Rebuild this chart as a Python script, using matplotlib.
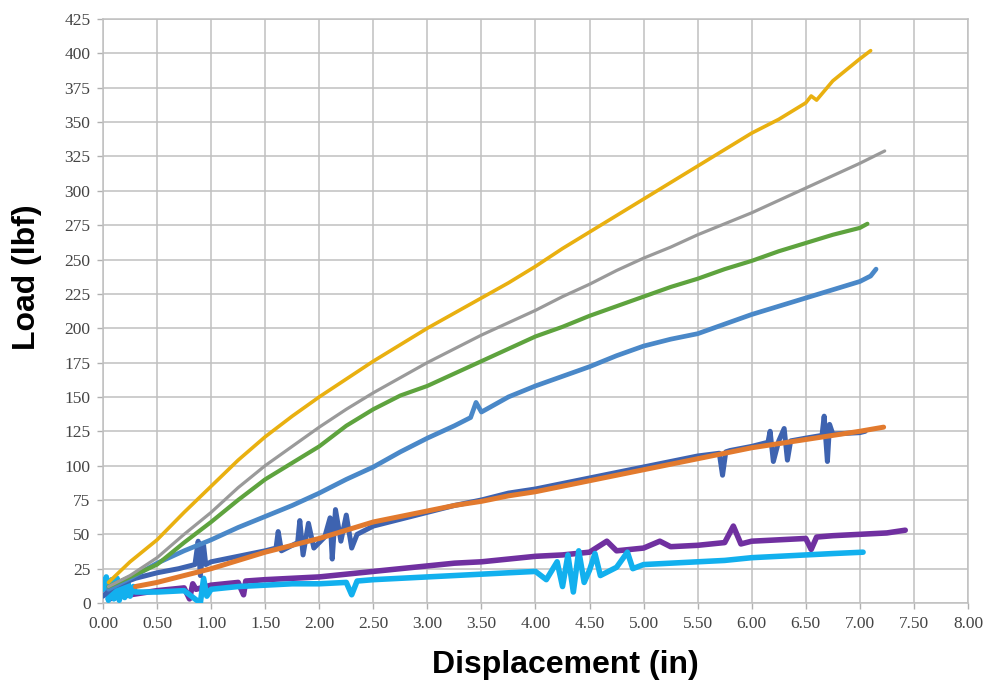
import matplotlib
matplotlib.use("Agg")
import matplotlib.pyplot as plt

# ---------------- data ----------------
yellow_x = [0.05, 0.25, 0.5, 0.75, 1.0, 1.25, 1.5, 1.75, 2.0, 2.25, 2.5, 2.75, 3.0, 3.25, 3.5,
            3.75, 4.0, 4.25, 4.5, 4.75, 5.0, 5.25, 5.5, 5.75, 6.0, 6.25, 6.5, 6.55, 6.6, 6.75, 7.0, 7.1]
yellow_y = [15, 30, 46, 66, 85, 104, 121, 136, 150, 163, 176, 188, 200, 211, 222,
            233, 245, 258, 270, 282, 294, 306, 318, 330, 342, 352, 364, 369, 366, 380, 396, 402]

gray_x = [0.05, 0.25, 0.5, 0.75, 1.0, 1.25, 1.5, 1.75, 2.0, 2.25, 2.5, 2.75, 3.0, 3.25, 3.5,
          3.75, 4.0, 4.25, 4.5, 4.75, 5.0, 5.25, 5.5, 5.75, 6.0, 6.25, 6.5, 6.75, 7.0, 7.23]
gray_y = [12, 20, 33, 50, 66, 84, 100, 114, 128, 141, 153, 164, 175, 185, 195,
          204, 213, 223, 232, 242, 251, 259, 268, 276, 284, 293, 302, 311, 320, 329]

green_x = [0.05, 0.25, 0.5, 0.75, 1.0, 1.25, 1.5, 1.75, 2.0, 2.25, 2.5, 2.75, 3.0, 3.25, 3.5,
           3.75, 4.0, 4.25, 4.5, 4.75, 5.0, 5.25, 5.5, 5.75, 6.0, 6.25, 6.5, 6.75, 7.0, 7.07]
green_y = [12, 19, 28, 44, 59, 75, 90, 102, 114, 129, 141, 151, 158, 167, 176,
           185, 194, 201, 209, 216, 223, 230, 236, 243, 249, 256, 262, 268, 273, 276]

lblue_x = [0.05, 0.25, 0.5, 0.75, 1.0, 1.25, 1.5, 1.75, 2.0, 2.25, 2.5, 2.75, 3.0, 3.25, 3.4,
           3.45, 3.5, 3.75, 4.0, 4.25, 4.5, 4.75, 5.0, 5.25, 5.5, 5.75, 6.0, 6.25, 6.5, 6.75,
           7.0, 7.1, 7.15]
lblue_y = [10, 18, 29, 38, 46, 55, 63, 71, 80, 90, 99, 110, 120, 129, 135,
           146, 139, 150, 158, 165, 172, 180, 187, 192, 196, 203, 210, 216, 222, 228,
           234, 238, 243]

dblue_x = [0.0, 0.1, 0.2, 0.3, 0.5, 0.7, 0.85, 0.88, 0.9, 0.93, 0.95, 1.0, 1.25, 1.5, 1.6,
           1.62, 1.65, 1.8, 1.82, 1.85, 1.9, 1.95, 2.05, 2.1, 2.12, 2.15, 2.2, 2.25, 2.3, 2.35,
           2.5, 2.75, 3.0, 3.25, 3.5, 3.75, 4.0, 4.25, 4.5, 4.75, 5.0, 5.25, 5.5, 5.7, 5.73,
           5.76, 5.8, 6.0, 6.15, 6.17, 6.2, 6.25, 6.3, 6.33, 6.36, 6.5, 6.65, 6.67, 6.7, 6.72,
           6.75, 7.0, 7.05]
dblue_y = [5, 12, 15, 18, 22, 25, 28, 45, 20, 42, 28, 30, 34, 38, 40,
           52, 38, 44, 60, 35, 58, 40, 48, 62, 32, 68, 45, 64, 40, 50,
           56, 61, 66, 71, 75, 80, 83, 87, 91, 95, 99, 103, 107, 109, 93,
           110, 111, 114, 117, 125, 103, 118, 127, 104, 118, 120, 122, 136, 103, 130,
           123, 124, 125]

orange_x = [0.3, 0.5, 0.75, 1.0, 1.25, 1.5, 1.75, 2.0, 2.25, 2.5, 2.75, 3.0, 3.25, 3.5, 3.75,
            4.0, 4.25, 4.5, 4.75, 5.0, 5.25, 5.5, 5.75, 6.0, 6.25, 6.5, 6.75, 7.0, 7.22]
orange_y = [12, 15, 20, 25, 31, 37, 42, 47, 53, 59, 63, 67, 71, 74, 78,
            81, 85, 89, 93, 97, 101, 105, 109, 113, 116, 119, 122, 125, 128]

purple_x = [0.05, 0.25, 0.5, 0.75, 0.8, 0.83, 0.86, 1.0, 1.25, 1.3, 1.32, 1.5, 1.75, 2.0, 2.25,
            2.5, 2.75, 3.0, 3.25, 3.5, 3.75, 4.0, 4.25, 4.5, 4.66, 4.75, 5.0, 5.15, 5.25, 5.5,
            5.75, 5.83, 5.9, 6.0, 6.25, 6.5, 6.55, 6.6, 6.75, 7.0, 7.25, 7.42]
purple_y = [3, 6, 9, 11, 3, 14, 10, 13, 15, 6, 16, 17, 18, 19, 21,
            23, 25, 27, 29, 30, 32, 34, 35, 37, 45, 38, 40, 45, 41, 42,
            44, 56, 43, 45, 46, 47, 39, 48, 49, 50, 51, 53]

cyan_x = [0.0, 0.03, 0.05, 0.08, 0.1, 0.13, 0.15, 0.18, 0.2, 0.23, 0.25, 0.28, 0.3, 0.5, 0.75,
          0.9, 0.93, 0.96, 1.0, 1.25, 1.5, 1.75, 2.0, 2.25, 2.3, 2.35, 2.5, 2.75, 3.0, 3.25,
          3.5, 3.75, 4.0, 4.1, 4.2, 4.25, 4.3, 4.35, 4.4, 4.45, 4.5, 4.55, 4.6, 4.75, 4.85,
          4.9, 5.0, 5.25, 5.5, 5.75, 6.0, 6.25, 6.5, 6.75, 7.03]
cyan_y = [10, 19, 2, 17, 3, 18, 2, 16, 4, 15, 5, 12, 8, 8, 9,
          0, 18, 5, 10, 12, 13, 14, 14, 15, 6, 16, 17, 18, 19, 20,
          21, 22, 23, 17, 30, 12, 35, 8, 38, 15, 24, 36, 20, 26, 37,
          25, 28, 29, 30, 31, 33, 34, 35, 36, 37]

x_ticks = [0.0, 0.5, 1.0, 1.5, 2.0, 2.5, 3.0, 3.5, 4.0, 4.5, 5.0, 5.5, 6.0, 6.5, 7.0, 7.5, 8.0]
y_ticks = list(range(0, 426, 25))

# ---------------- figure ----------------
fig = plt.figure(figsize=(9.86, 6.8), dpi=100)
ax = fig.add_axes([0.1045, 0.1132, 0.8772, 0.8588])

series = [
    (purple_x, purple_y, "#7030A0", 4.0),
    (cyan_x, cyan_y, "#12B0EE", 4.0),
    (dblue_x, dblue_y, "#3E63B0", 3.6),
    (orange_x, orange_y, "#E27A2E", 3.6),
    (lblue_x, lblue_y, "#4A88C8", 3.4),
    (green_x, green_y, "#5EA33E", 3.0),
    (gray_x, gray_y, "#9A9A9A", 2.3),
    (yellow_x, yellow_y, "#E9B010", 2.6),
]
for xs, ys, c, lw in series:
    ax.plot(xs, ys, color=c, lw=lw, solid_joinstyle="round", solid_capstyle="round", zorder=3)

ax.set_xlim(0, 8)
ax.set_ylim(0, 425)
ax.set_xticks(x_ticks)
ax.set_yticks(y_ticks)
ax.set_xticklabels([f"{v:.2f}" for v in x_ticks])
ax.set_yticklabels([str(v) for v in y_ticks])
ax.grid(True, color="#C0C0C0", lw=1.1, zorder=0)
ax.set_axisbelow(True)
for s in ax.spines.values():
    s.set_color("#C0C0C0")
    s.set_linewidth(1.1)
ax.tick_params(axis="both", length=4, color="#B0B0B0", width=1,
               labelsize=12.5, labelcolor="#444444", pad=5)
for lab in ax.get_xticklabels() + ax.get_yticklabels():
    lab.set_family("Liberation Serif")

fig.text(565 / 986, 1 - 665 / 680, "Displacement (in)", ha="center", va="center",
         fontsize=23, fontweight="bold", family="Liberation Sans")
fig.text(27 / 986, 1 - 277 / 680, "Load (lbf)", ha="center", va="center", rotation=90,
         fontsize=23, fontweight="bold", family="Liberation Sans")

fig.savefig("out.png", dpi=100)
